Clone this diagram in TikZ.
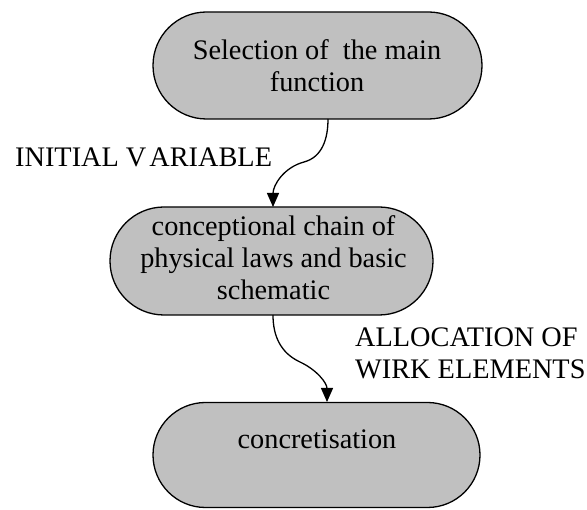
\documentclass[tikz,border=0pt]{standalone}
\usepackage{fontspec}
\setmainfont{Liberation Serif}
\usetikzlibrary{shapes.misc,arrows.meta}
\definecolor{boxgray}{HTML}{C0C0C0}
\newcommand{\rowsc}[1]{\begin{tabular}[t]{@{}c@{}}#1\end{tabular}}
\newcommand{\rowsl}[1]{\begin{tabular}[t]{@{}l@{}}#1\end{tabular}}
\tikzset{
  blob/.style={rounded rectangle, draw=black, line width=1.3pt, fill=boxgray,
    inner sep=0pt},
  txt/.style={font=\fontsize{28.3}{32}\selectfont, inner sep=0pt, anchor=base},
  lbl/.style={font=\fontsize{28.3}{32}\selectfont, inner sep=0pt, anchor=base west},
  flow/.style={line width=1.3pt, -{Triangle[length=14pt,width=12pt]}}
}
\begin{document}
\begin{tikzpicture}[x=1pt,y=1pt]
\useasboundingbox (0,0) rectangle (587,-510);
\node[blob, minimum width=329pt, minimum height=107pt] (b1) at (317.5,-65.5) {};
\node[txt] (t1) at (317,-60) {\rowsc{Selection of~ the main\\function}};
\node[blob, minimum width=323pt, minimum height=108pt] (b2) at (271.5,-261) {};
\node[txt] (t2) at (273.5,-236) {\rowsc{conceptional chain of\\physical laws and basic\\schematic}};
\node[blob, minimum width=327pt, minimum height=105pt] (b3) at (316.5,-455) {};
\node[txt] (t3) at (317,-448.5) {concretisation};
\coordinate (s1) at (328,-119);
\coordinate (m1) at (304,-162);
\coordinate (e1) at (273,-207);
\draw[flow] (s1) to[out=-90,in=15] (m1) to[out=195,in=90] (e1);
\coordinate (s2) at (273,-315);
\coordinate (m2) at (300,-362);
\coordinate (e2) at (327,-402);
\draw[flow] (s2) to[out=-90,in=155] (m2) to[out=-25,in=90] (e2);
\node[lbl] (l1) at (15,-167) {INITIAL V\kern3pt ARIABLE};
\node[lbl] (l2) at (355,-347) {\rowsl{ALLOCATION OF\\WIRK ELEMENTS}};
\end{tikzpicture}
\end{document}
